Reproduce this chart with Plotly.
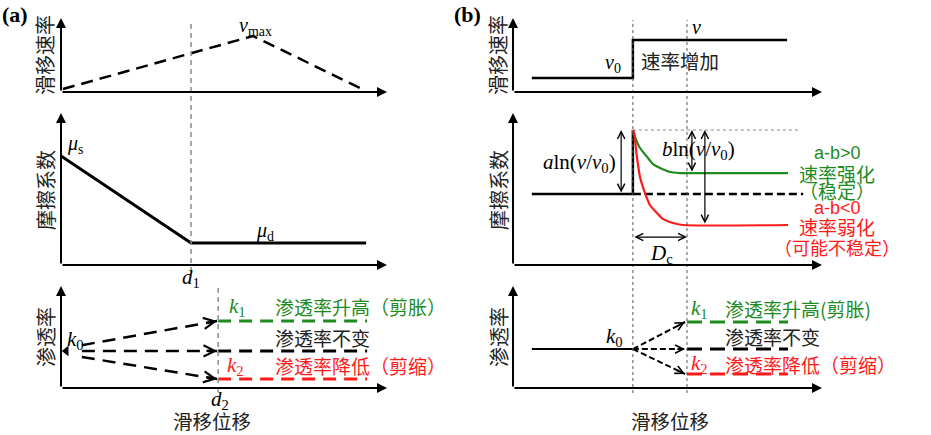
import plotly.graph_objects as go

W, H = 931, 435

# ---------------- data (schematic units: slip displacement 0-10, quantity 0-10) ----------------
# Panel (a)
a_rate_x = [0.06, 5.89, 9.23]
a_rate_y = [0.4, 7.57, 0.4]
a_fric_x = [0.0, 3.99, 9.36]
a_fric_y = [7.17, 1.45, 1.45]
a_d1 = 3.99
a_d2 = 4.82
a_perm_start_x = 0.64
a_perm_start_y = [4.2, 3.63, 3.04]
a_perm_levels = [6.57, 3.63, 0.88]
a_perm_tip_x = 4.79
a_perm_end_x = 9.39

# Panel (b)
b_rate_x = [0.61, 3.88, 3.88, 8.87]
b_rate_y = [1.89, 1.89, 7.03, 7.03]
b_step = 3.88
b_dc_end = 5.63
b_fric_x = [0.61, 3.88, 3.88]
b_fric_y = [4.67, 4.67, 8.88]
b_fric_dash_x = [3.88, 9.39]
b_fric_base = 4.67
b_fric_peak_x = [3.88, 9.29]
b_fric_peak = 8.88
b_green_x = [3.88, 3.95, 4.11, 4.34, 4.53, 4.76, 5.08, 5.40, 5.63, 8.9]
b_green_y = [8.88, 8.42, 7.70, 7.11, 6.64, 6.38, 6.12, 6.05, 6.05, 6.05]
b_red_x = [3.88, 3.92, 4.01, 4.11, 4.27, 4.43, 4.66, 4.85, 5.18, 5.50, 8.9]
b_red_y = [8.88, 8.68, 7.11, 5.79, 4.74, 3.95, 3.42, 3.03, 2.76, 2.63, 2.63]
b_perm_x = [0.61, 3.88]
b_perm_y = 3.82
b_perm_levels = [6.47, 3.82, 1.37]
b_perm_tip_x = 5.57
b_perm_end_x = 8.9

# labels
row_titles = ["滑移速率", "摩擦系数", "渗透率"]
perm_texts_a = ["渗透率升高（剪胀）", "渗透率不变", "渗透率降低（剪缩）"]
perm_texts_b = ["渗透率升高(剪胀)", "渗透率不变", "渗透率降低（剪缩）"]
xlabel = "滑移位移"
ab_texts = ["a-b&gt;0", "速率强化", "（稳定）", "a-b&lt;0", "速率弱化", "（可能不稳定）"]

GREEN = "#1E8B1E"
RED = "#FF1A1A"
CJK = "Noto Sans CJK SC"
SERIF = "Liberation Serif"
SANS = "Liberation Sans"

fig = go.Figure()

# pixel scale of each axis (axes are invisible; drawn arrows act as axes)
XA0, XA_PX = 61, 32.6      # panel (a): x origin pixel, pixels per unit
XB0, XB_PX = 513, 30.9     # panel (b)
X_MAX = 12.0
rows = [  # (origin pixel, pixels per unit, lowest value shown)
    (92, 7.4, 0.0),
    (265, 15.2, -1.3),
    (388, 10.2, -4.5),
]


def ydom(o, s, lo):
    return [1 - (o - lo * s) / H, 1 - (o - 10 * s) / H], [lo, 10]


ax_common = dict(visible=False, fixedrange=True)
yaxes = {}
for i, (o, s, lo) in enumerate(rows):
    dom, rng = ydom(o, s, lo)
    yaxes["yaxis" if i == 0 else "yaxis%d" % (i + 1)] = dict(domain=dom, range=rng, anchor="x", **ax_common)
    yaxes["yaxis%d" % (i + 4)] = dict(domain=dom, range=rng, anchor="x2", **ax_common)

fig.update_layout(
    width=W, height=H, margin=dict(l=0, r=0, t=0, b=0),
    paper_bgcolor="white", plot_bgcolor="white", showlegend=False,
    xaxis=dict(domain=[XA0 / W, (XA0 + X_MAX * XA_PX) / W], range=[0, X_MAX], anchor="y3", **ax_common),
    xaxis2=dict(domain=[XB0 / W, (XB0 + X_MAX * XB_PX) / W], range=[0, X_MAX], anchor="y6", **ax_common),
    **yaxes,
)


def line(x, y, xa, ya, color="black", width=2.5, dash="solid", shape="linear"):
    fig.add_trace(go.Scatter(x=x, y=y, xaxis=xa, yaxis=ya, mode="lines",
                             line=dict(color=color, width=width, dash=dash, shape=shape, smoothing=0.6),
                             hoverinfo="skip", cliponaxis=False))


def arrow(x, y, axv, ayv, xa, ya, color="black", width=2, head=2, size=1.0, both=False):
    fig.add_annotation(x=x, y=y, ax=axv, ay=ayv, xref=xa, yref=ya, axref=xa, ayref=ya,
                       text="", showarrow=True, arrowhead=head, arrowsize=size, arrowwidth=width,
                       arrowcolor=color, standoff=0, startstandoff=0,
                       arrowside="end+start" if both else "end",
                       startarrowhead=head, startarrowsize=size)


def txt(x, y, s, xa, ya, size, color="black", family=SERIF, xanchor="center", angle=0):
    fig.add_annotation(x=x, y=y, xref=xa, yref=ya, text=s, showarrow=False,
                       font=dict(family=family, size=size, color=color),
                       xanchor=xanchor, yanchor="middle", textangle=angle)


# axes arrows for all six subplots
for xa, ya in [("x", "y"), ("x", "y2"), ("x", "y3"), ("x2", "y4"), ("x2", "y5"), ("x2", "y6")]:
    arrow(0, 10, 0, 0, xa, ya, width=2, head=2, size=1.0)
    arrow(10, 0, 0, 0, xa, ya, width=2, head=2, size=1.0)

# vertical reference lines
fig.add_shape(type="line", xref="x", yref="paper", x0=a_d1, x1=a_d1, y0=1 - 272 / H, y1=1 - 20 / H,
              line=dict(color="#8c8c8c", width=1.5, dash="5px,4px"))
fig.add_shape(type="line", xref="x", yref="paper", x0=a_d2, x1=a_d2, y0=1 - 392 / H, y1=1 - 284 / H,
              line=dict(color="#8c8c8c", width=1.5, dash="5px,4px"))
for xv in [b_step, b_dc_end]:
    fig.add_shape(type="line", xref="x2", yref="paper", x0=xv, x1=xv, y0=1 - 393 / H, y1=1 - 20 / H,
                  line=dict(color="#555555", width=1, dash="3px,3px"))

# ---------------- Panel (a) ----------------
line(a_rate_x, a_rate_y, "x", "y", width=2.5, dash="12px,7px")
txt(5.98, 8.8, "<i>v</i><sub>max</sub>", "x", "y", 20)

line(a_fric_x, a_fric_y, "x", "y2", width=3)
txt(0.45, 7.9, "<i>μ</i><sub>s</sub>", "x", "y2", 20)
txt(6.26, 2.2, "<i>μ</i><sub>d</sub>", "x", "y2", 20)
txt(4.0, -0.85, "<i>d</i><sub>1</sub>", "x", "y2", 21)

colors3 = [GREEN, "black", RED]
fig.add_trace(go.Scatter(x=[0.16], y=[a_perm_levels[1]], xaxis="x", yaxis="y3", mode="markers",
                         marker=dict(symbol="triangle-left", size=9, color="black"),
                         hoverinfo="skip", cliponaxis=False))
for sy, lv, c in zip(a_perm_start_y, a_perm_levels, colors3):
    line([a_perm_start_x, a_perm_tip_x], [sy, lv], "x", "y3", width=2.5, dash="13px,8px")
    fx = 0.09
    arrow(a_perm_tip_x, lv, a_perm_tip_x - fx * (a_perm_tip_x - a_perm_start_x),
          lv - fx * (lv - sy), "x", "y3", width=2.2, head=5, size=1.0)
    line([a_d2, a_perm_end_x], [lv, lv], "x", "y3", color=c, width=3, dash="13px,8px")
txt(0.45, 4.75, "<i>k</i><sub>0</sub>", "x", "y3", 21)
txt(5.4, 7.9, "<i>k</i><sub>1</sub>", "x", "y3", 21, color=GREEN)
txt(5.35, 2.2, "<i>k</i><sub>2</sub>", "x", "y3", 21, color=RED)
for yv, s, c in zip([7.95, 4.95, 2.2], perm_texts_a, colors3):
    txt(6.5, yv, s, "x", "y3", 19, color=c if c != "black" else "#222222", family=CJK, xanchor="left")
txt(4.88, -1.15, "<i>d</i><sub>2</sub>", "x", "y3", 21)
txt(4.62, -3.2, xlabel, "x", "y3", 19.5, color="#222222", family=CJK)

# ---------------- Panel (b) ----------------
line(b_rate_x, b_rate_y, "x2", "y4", width=2.5)
txt(3.25, 3.8, "<i>v</i><sub>0</sub>", "x2", "y4", 20)
txt(5.95, 8.85, "<i>v</i>", "x2", "y4", 20)
txt(5.4, 4.3, "速率增加", "x2", "y4", 19.5, color="#222222", family=CJK)

line(b_fric_x, b_fric_y, "x2", "y5", width=2.5)
line(b_fric_dash_x, [b_fric_base, b_fric_base], "x2", "y5", width=2.5, dash="8px,4px")
line(b_fric_peak_x, [b_fric_peak, b_fric_peak], "x2", "y5", color="#888888", width=1, dash="3px,3px")
line(b_green_x, b_green_y, "x2", "y5", color=GREEN, width=2.2, shape="spline")
line(b_red_x, b_red_y, "x2", "y5", color=RED, width=2.2, shape="spline")
arrow(3.5, b_fric_peak, 3.5, b_fric_base, "x2", "y5", width=1.2, head=5, size=1.2, both=True)
arrow(5.79, b_fric_peak, 5.79, b_green_y[-1], "x2", "y5", width=1.2, head=5, size=1.2, both=True)
arrow(6.21, b_fric_peak, 6.21, b_red_y[-1], "x2", "y5", width=1.2, head=5, size=1.2, both=True)
arrow(b_dc_end, 1.84, b_step, 1.84, "x2", "y5", width=1.2, head=5, size=1.2, both=True)
txt(2.14, 6.7, "<i>a</i>ln(<i>v</i>/<i>v</i><sub>0</sub>)", "x2", "y5", 21)
txt(5.99, 7.55, "<i>b</i>ln(<i>v</i>/<i>v</i><sub>0</sub>)", "x2", "y5", 21)
txt(4.82, 0.75, "<i>D</i><sub>c</sub>", "x2", "y5", 21)
ab_y = [7.37, 6.05, 4.93, 3.75, 2.5, 1.2]
ab_c = [GREEN, GREEN, GREEN, RED, RED, RED]
ab_size = [18, 19, 19, 18, 19, 18]
for i, (yv, s, c, sz) in enumerate(zip(ab_y, ab_texts, ab_c, ab_size)):
    fam = SANS if i in (0, 3) else CJK
    txt(10.5, yv, s, "x2", "y5", sz, color=c, family=fam)

line(b_perm_x, [b_perm_y, b_perm_y], "x2", "y6", width=2)
for lv, c in zip(b_perm_levels, colors3):
    line([b_step, b_perm_tip_x], [b_perm_y, lv], "x2", "y6", width=2, dash="6px,3px")
    fx = 0.18
    arrow(b_perm_tip_x, lv, b_perm_tip_x - fx * (b_perm_tip_x - b_step),
          lv - fx * (lv - b_perm_y), "x2", "y6", width=1.8, head=5, size=0.9)
    line([b_dc_end, b_perm_end_x], [lv, lv], "x2", "y6", color=c, width=3, dash="15px,8px")
txt(3.3, 5.0, "<i>k</i><sub>0</sub>", "x2", "y6", 21)
txt(6.02, 7.75, "<i>k</i><sub>1</sub>", "x2", "y6", 21, color=GREEN)
txt(6.02, 2.35, "<i>k</i><sub>2</sub>", "x2", "y6", 21, color=RED)
for yv, s, c in zip([7.8, 5.05, 2.35], perm_texts_b, colors3):
    txt(6.8, yv, s, "x2", "y6", 19, color=c if c != "black" else "#222222", family=CJK, xanchor="left")
txt(5.08, -3.2, xlabel, "x2", "y6", 19.5, color="#222222", family=CJK)

# ---------------- row titles and panel tags ----------------
title_y = [1 - 55 / H, 1 - 190 / H, 1 - 337 / H]
for px_x in [45, 498]:
    for ty, s in zip(title_y, row_titles):
        fig.add_annotation(x=px_x / W, y=ty, xref="paper", yref="paper", text=s, showarrow=False,
                           textangle=-90, font=dict(family=CJK, size=20, color="#222222"),
                           xanchor="center", yanchor="middle")
for px_x, s in [(15, "(a)"), (467, "(b)")]:
    fig.add_annotation(x=px_x / W, y=1 - 15 / H, xref="paper", yref="paper", text="<b>" + s + "</b>",
                       showarrow=False, font=dict(family=SERIF, size=22, color="black"),
                       xanchor="center", yanchor="middle")

fig.write_html("out.html", config={"displayModeBar": False},
               post_script="document.body.style.margin='0';document.body.style.overflow='hidden';")
